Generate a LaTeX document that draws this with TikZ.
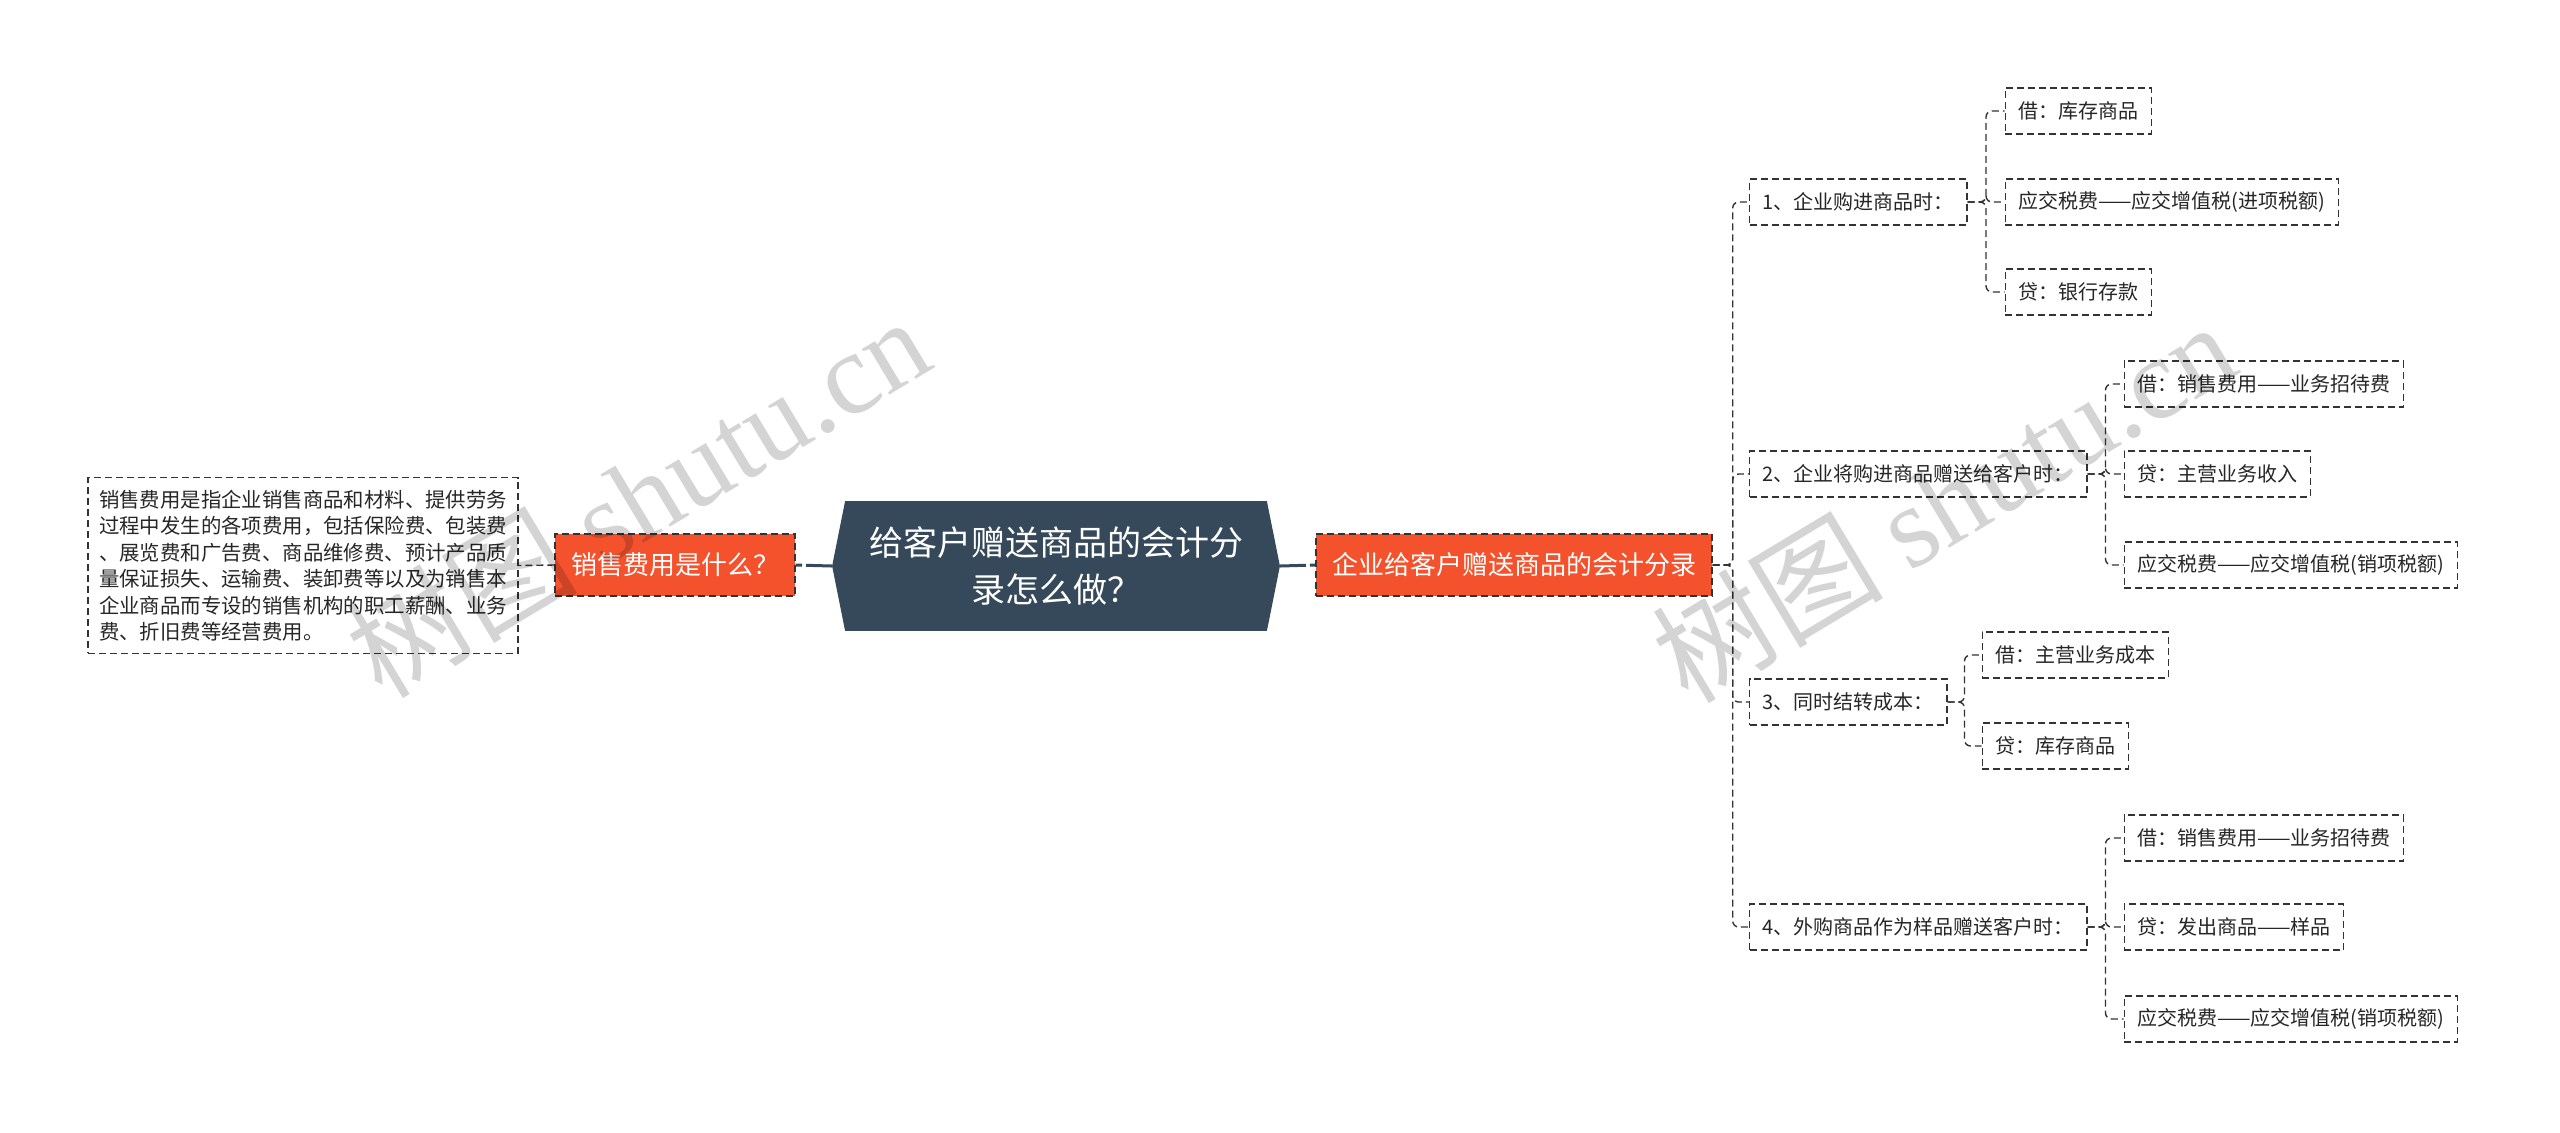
\documentclass[tikz,border=0pt]{standalone}
\usepackage{fontspec}
\setmainfont{Noto Sans CJK SC}
\newfontfamily\wmlat{Liberation Serif}
\usetikzlibrary{backgrounds,calc}
\definecolor{darkn}{HTML}{36495A}
\definecolor{redn}{HTML}{F4522D}
\definecolor{lineC}{HTML}{333333}
\begin{document}
\begin{tikzpicture}[x=0.5pt,y=-0.5pt,
  box/.style={draw=lineC, dash pattern=on 3.5pt off 2pt, line width=0.7pt,
    inner xsep=6.5pt, inner ysep=0pt, minimum height=23pt,
    font=\fontsize{10pt}{12pt}\selectfont, text=black!85},
  descbox/.style={box, align=left, inner xsep=5.5pt, inner ysep=6pt, minimum height=0pt,
    font=\fontsize{10.2pt}{13.25pt}\selectfont},
  redbox/.style={fill=redn, draw=lineC, dash pattern=on 3.5pt off 2pt, line width=0.7pt,
    text=white, font=\fontsize{13pt}{15pt}\selectfont, minimum height=31pt,
    inner xsep=8pt, inner ysep=0pt},
  centre/.style={text=white, align=center, font=\fontsize{17pt}{23.5pt}\selectfont,
    minimum width=223.5pt, minimum height=64.5pt, inner sep=0pt},
  conn/.style={draw=lineC, dash pattern=on 3.5pt off 2pt, line width=0.7pt, rounded corners=3pt},
  darkconn/.style={draw=darkn, line width=1.5pt, dash pattern=on 13pt off 2pt},
  wm/.style={text=black, opacity=0.17, font=\fontsize{58pt}{58pt}\selectfont, inner sep=0pt}
]
\useasboundingbox (0,0) rectangle (2560,1132);

% central node
\node[centre] (c) at (1056,566) {给客户赠送商品的会计分\\录怎么做？};
\begin{pgfonlayer}{background}
\fill[white] (0,0) rectangle (2560,1132);
\fill[darkn] ([xshift=6.5pt]c.north west) -- ([xshift=-6.5pt]c.north east) -- (c.east)
  -- ([xshift=-6.5pt]c.south east) -- ([xshift=6.5pt]c.south west) -- (c.west) -- cycle;
\end{pgfonlayer}

% left branch
\node[redbox] (lr) at (675,565) {销售费用是什么？};
\node[descbox] (d) at (303,565.5) {销售费用是指企业销售商品和材料、提供劳务\\过程中发生的各项费用，包括保险费、包装费\\、展览费和广告费、商品维修费、预计产品质\\量保证损失、运输费、装卸费等以及为销售本\\企业商品而专设的销售机构的职工薪酬、业务\\费、折旧费等经营费用。};

% right branch
\node[redbox] (rr) at (1514,565) {企业给客户赠送商品的会计分录};

\node[box, anchor=west] (n1) at (1749,202) {1、企业购进商品时：};
\node[box, anchor=west] (n2) at (1749,474) {2、企业将购进商品赠送给客户时：};
\node[box, anchor=west] (n3) at (1749,702) {3、同时结转成本：};
\node[box, anchor=west] (n4) at (1749,927) {4、外购商品作为样品赠送客户时：};

\node[box, anchor=west] (a1) at ($(n1.east)+(37,-91)$) {借：库存商品};
\node[box, anchor=west] (a2) at ($(n1.east)+(37,0)$) {应交税费——应交增值税(进项税额)};
\node[box, anchor=west] (a3) at ($(n1.east)+(37,90)$) {贷：银行存款};

\node[box, anchor=west] (b1) at ($(n2.east)+(36,-90)$) {借：销售费用——业务招待费};
\node[box, anchor=west] (b2) at ($(n2.east)+(36,0)$) {贷：主营业务收入};
\node[box, anchor=west] (b3) at ($(n2.east)+(36,91)$) {应交税费——应交增值税(销项税额)};

\node[box, anchor=west] (c1) at ($(n3.east)+(34,-47)$) {借：主营业务成本};
\node[box, anchor=west] (c2) at ($(n3.east)+(34,44)$) {贷：库存商品};

\node[box, anchor=west] (d1) at ($(n4.east)+(36,-89)$) {借：销售费用——业务招待费};
\node[box, anchor=west] (d2) at ($(n4.east)+(36,0)$) {贷：发出商品——样品};
\node[box, anchor=west] (d3) at ($(n4.east)+(36,92)$) {应交税费——应交增值税(销项税额)};

% connectors
\draw[darkconn] (c.west) -- (lr.east);
\draw[darkconn] (c.east) -- (rr.west);
\draw[conn] (lr.west) -- (d.east);

\foreach \n in {n1,n2,n3,n4}{
  \draw[conn] (rr.east) -- ++(20,0) |- (\n.west);
}
\foreach \ch in {a1,a2,a3}{ \draw[conn] (n1.east) -- ++(18.5,0) |- (\ch.west); }
\foreach \ch in {b1,b2,b3}{ \draw[conn] (n2.east) -- ++(18,0) |- (\ch.west); }
\foreach \ch in {c1,c2}{ \draw[conn] (n3.east) -- ++(17,0) |- (\ch.west); }
\foreach \ch in {d1,d2,d3}{ \draw[conn] (n4.east) -- ++(18,0) |- (\ch.west); }

% watermarks
\node[wm, rotate=31] (w1) at (637,496) {树图 {\wmlat shutu.cn}};
\node[wm, rotate=31] (w2) at (1943,501) {树图 {\wmlat shutu.cn}};
\end{tikzpicture}
\end{document}
